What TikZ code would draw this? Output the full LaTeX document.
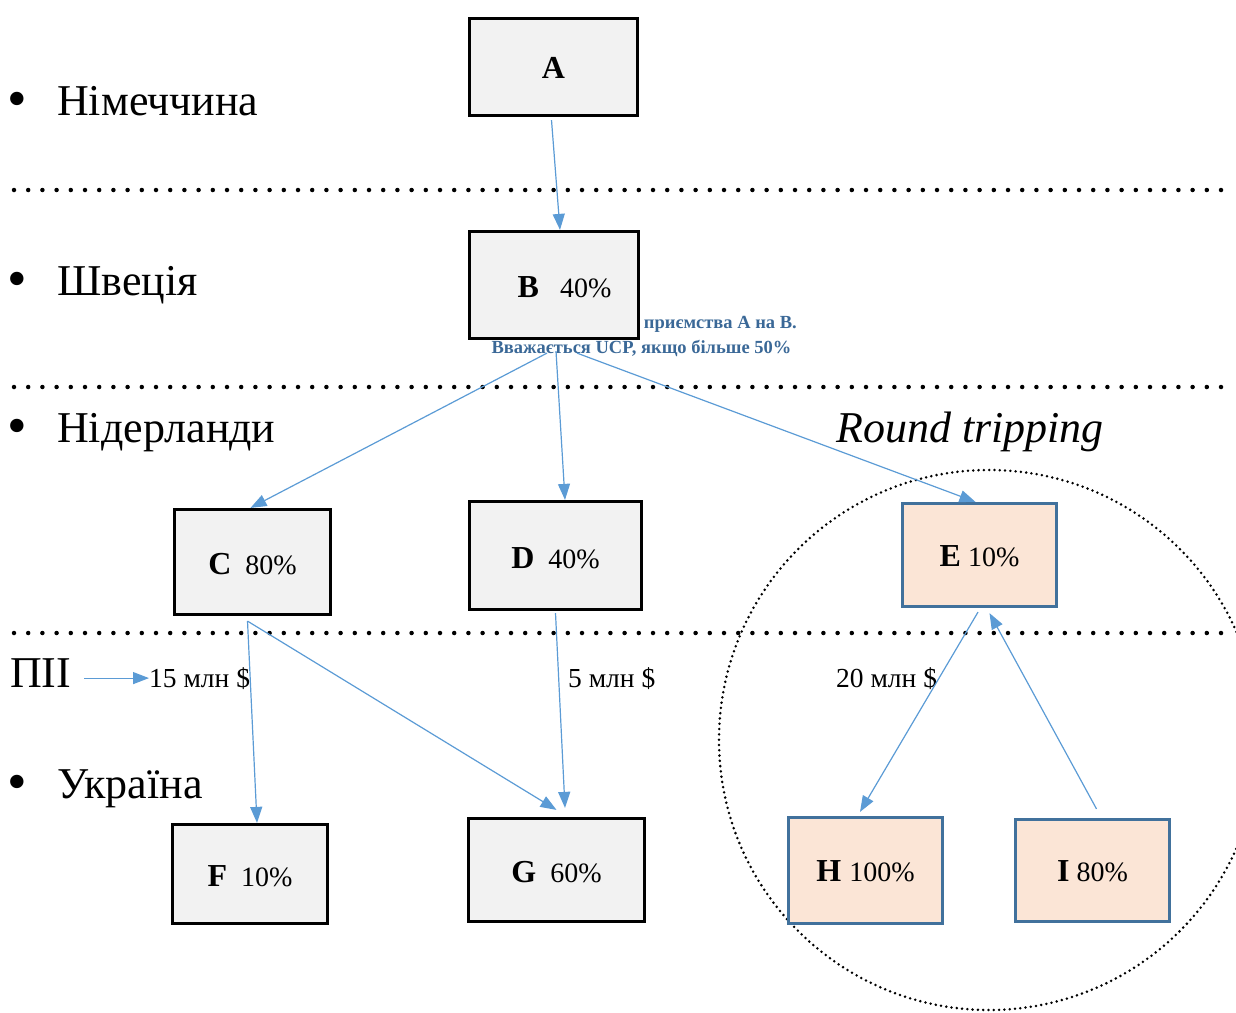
\documentclass[tikz,border=0pt]{standalone}
\usepackage{fontspec}
\setmainfont{Liberation Serif}
\usetikzlibrary{arrows.meta,calc}
\definecolor{arrblue}{HTML}{5B9BD5}
\definecolor{boxgray}{HTML}{F2F2F2}
\definecolor{peach}{HTML}{FBE5D6}
\definecolor{peachline}{HTML}{41719C}
\definecolor{notecol}{HTML}{3A6897}
\newcommand{\bl}[1]{{\fontsize{32}{34}\selectfont\bfseries #1}}
\begin{document}
\begin{tikzpicture}[x=1pt,y=-1pt,
  box/.style={draw=black, line width=2.7pt, fill=boxgray, inner sep=0pt, text height=25pt, text depth=0pt, font=\fontsize{28}{30}\selectfont},
  pbox/.style={box, draw=peachline, fill=peach},
  arr/.style={draw=arrblue, line width=1.2pt, -{Triangle[length=16pt,width=12pt]}},
  big/.style={font=\fontsize{44}{48}\selectfont, inner sep=0pt, anchor=base west},
  bul/.style={font=\fontsize{56}{60}\selectfont, inner sep=0pt, anchor=base},
  small/.style={font=\fontsize{27.5}{30}\selectfont, inner sep=0pt, anchor=base west},
  note/.style={font=\fontsize{18.5}{20}\selectfont\bfseries, text=notecol, inner sep=0pt},
  sep/.style={line width=4.5pt, line cap=round, dash pattern=on 0pt off 14.2pt},
  ring/.style={line width=2.8pt, line cap=round, dash pattern=on 0pt off 5.3pt}]
\useasboundingbox (0,0) rectangle (1236,1012);
\clip (0,0) rectangle (1236,1012);
% separators
\draw[sep] (14,190) -- (1232,190);
\draw[sep] (14,387) -- (1232,387);
\draw[sep] (14,633) -- (1232,633);
% round tripping circle
\draw[ring] (989,740) circle[radius=270pt];
% note text
\node[note, anchor=base east] (n1) at (797,328) {приємства А на В.};
\node[note, anchor=base] (n2) at (641.5,353) {Вважається UCP, якщо більше 50\%};
% boxes
\node[box, minimum width=168.5pt, minimum height=97.5pt, text height=22pt] (A) at (553.5,67) {\bl{A}};
\node[box, minimum width=169.5pt, minimum height=107.5pt] (B) at (554,285) {\hspace{21pt}\bl{B}\hspace{21pt}40\%};
\node[box, minimum width=156.5pt, minimum height=105.5pt] (C) at (252.5,562) {\bl{C}\hspace{14pt}80\%};
\node[box, minimum width=172.5pt, minimum height=108.5pt] (D) at (555.5,555.5) {\bl{D}\hspace{14pt}40\%};
\node[pbox, minimum width=154.5pt, minimum height=103.5pt, text height=22pt] (E) at (979.5,555) {\bl{E} 10\%};
\node[box, minimum width=155.5pt, minimum height=99.5pt] (F) at (250,874) {\bl{F}\hspace{14pt}10\%};
\node[box, minimum width=176.5pt, minimum height=103.5pt] (G) at (556.5,870) {\bl{G}\hspace{14pt}60\%};
\node[pbox, minimum width=154.5pt, minimum height=106.5pt, text height=22pt] (H) at (865.5,870.5) {\bl{H}\hspace{8pt}100\%};
\node[pbox, minimum width=154.5pt, minimum height=102.5pt, text height=22pt] (I) at (1092.5,870.5) {\bl{I} 80\%};
% left labels
\node[bul] (b1) at (17,117) {•};
\node[big] (de) at (57,115) {Німеччина};
\node[bul] (b2) at (17,297) {•};
\node[big] (se) at (57,295) {Швеція};
\node[bul] (b3) at (17,444) {•};
\node[big] (nl) at (57,442) {Нідерланди};
\node[big] (pii) at (10,687) {ПІІ};
\node[bul] (b4) at (17,800) {•};
\node[big] (ua) at (57,798) {Україна};
\node[big, font=\fontsize{44}{48}\selectfont\itshape] (rt) at (836,442) {Round tripping};
% amounts
\node[small] (l15) at (149,687) {15 млн \$};
\node[small] (l5) at (568,687) {5 млн \$};
\node[small] (l20) at (836,687) {20 млн \$};
% connectors
\draw[arr] ($(A.south)+(-2,3)$) -- ($(B.north)+(6,0)$);
\draw[arr] ($(B.south)+(-7,13)$) -- ($(C.north)+(-2,0)$);
\draw[arr] ($(B.south)+(2,11)$) -- ($(D.north)+(9.5,0)$);
\draw[arr] ($(B.south)+(23,13)$) -- ($(E.north)+(-4,0)$);
\draw[arr] ($(C.south)+(-5,5)$) -- ($(F.north)+(7,0)$);
\draw[arr] ($(C.south)+(-5,5)$) -- ($(G.north)+(0,-7)$);
\draw[arr] ($(D.south)+(0,2)$) -- ($(G.north)+(8.5,-9)$);
\draw[arr] ($(E.south)+(-1.5,4)$) -- ($(H.north)+(-5.5,-4)$);
\draw[arr] ($(I.north)+(4,-9)$) -- ($(E.south)+(10,5)$);
\coordinate (pa) at ([xshift=13pt]pii.east);
\draw[arr] (pa |- l15.west) -- (l15.west);
\end{tikzpicture}
\end{document}
